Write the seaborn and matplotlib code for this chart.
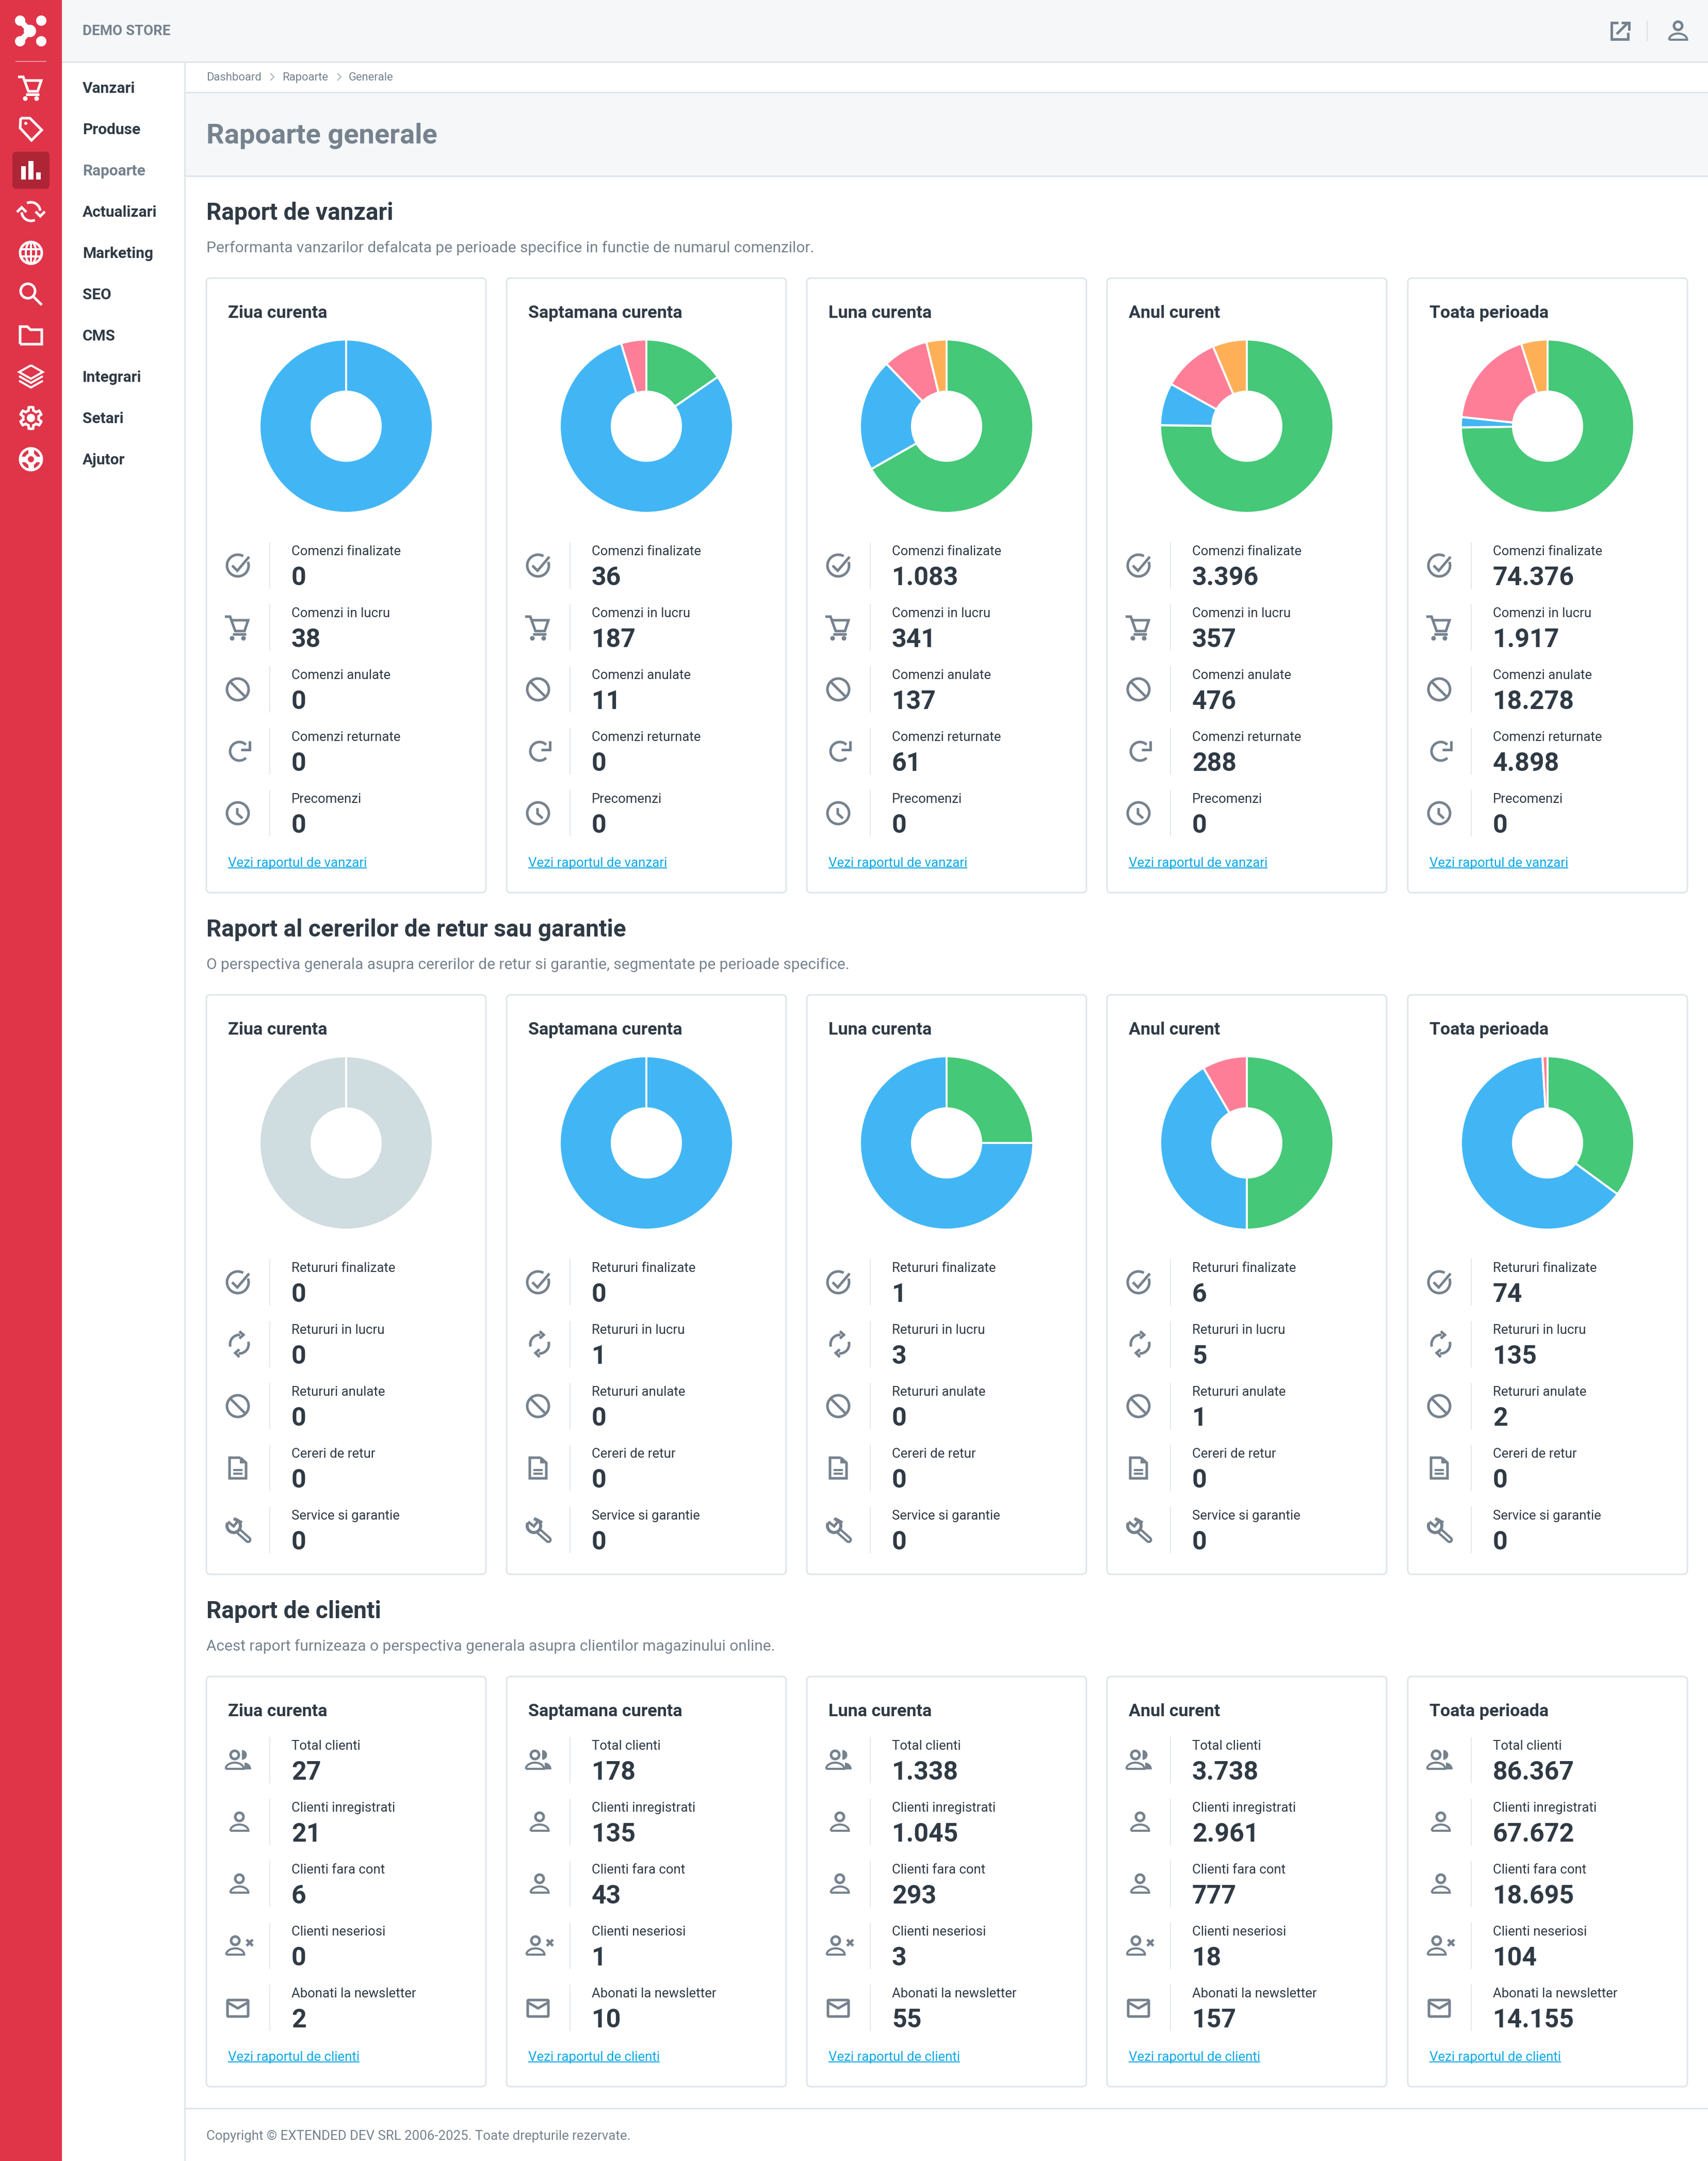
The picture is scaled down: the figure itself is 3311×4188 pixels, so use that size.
import numpy as np
import seaborn as sns
import matplotlib.pyplot as plt
from matplotlib.patches import Rectangle, Circle, Ellipse, FancyBboxPatch, Polygon

sns.set_theme(style="white")
plt.rcParams['font.family'] = ['Roboto', 'DejaVu Sans']

W, H = 3312, 4188

# data
periods = ['Ziua curenta', 'Saptamana curenta', 'Luna curenta', 'Anul curent', 'Toata perioada']

sales_labels = ['Comenzi finalizate', 'Comenzi in lucru', 'Comenzi anulate', 'Comenzi returnate', 'Precomenzi']
sales_done = [0, 36, 1083, 3396, 74376]
sales_wip = [38, 187, 341, 357, 1917]
sales_cancel = [0, 11, 137, 476, 18278]
sales_return = [0, 0, 61, 288, 4898]
sales_pre = [0, 0, 0, 0, 0]

ret_labels = ['Retururi finalizate', 'Retururi in lucru', 'Retururi anulate', 'Cereri de retur', 'Service si garantie']
ret_done = [0, 0, 1, 6, 74]
ret_wip = [0, 1, 3, 5, 135]
ret_cancel = [0, 0, 0, 1, 2]
ret_req = [0, 0, 0, 0, 0]
ret_service = [0, 0, 0, 0, 0]

cli_labels = ['Total clienti', 'Clienti inregistrati', 'Clienti fara cont', 'Clienti neseriosi', 'Abonati la newsletter']
cli_total = [27, 178, 1338, 3738, 86367]
cli_reg = [21, 135, 1045, 2961, 67672]
cli_noacc = [6, 43, 293, 777, 18695]
cli_bad = [0, 1, 3, 18, 104]
cli_news = [2, 10, 55, 157, 14155]

nav_items = ['Vanzari', 'Produse', 'Rapoarte', 'Actualizari', 'Marketing', 'SEO', 'CMS', 'Integrari', 'Setari', 'Ajutor']

pie_colors = sns.color_palette(['#45c878', '#42b6f5', '#ff7e97', '#ffb057'])
empty_color = '#cfdce0'

RED = '#e03449'
RED_DARK = '#ae2536'
PANEL = '#f5f7f9'
BORDER = '#dfe6ea'
DARK = '#2f3a45'
MUTED = '#76828e'
LINK = '#0aa9e8'

fig = plt.figure(figsize=(W / 100, H / 100), dpi=100, facecolor='white')
ax = fig.add_axes([0, 0, 1, 1])
ax.set_xlim(0, W)
ax.set_ylim(H, 0)
ax.axis('off')


def px(n):
    return n * 0.72


def txt(x, y, s, size, color=DARK, weight='normal', **kw):
    return ax.text(x, y, s, fontsize=px(size), color=color, fontweight=weight, va='baseline', **kw)


def rect(x0, y0, x1, y1, color, z=1):
    ax.add_patch(Rectangle((x0, y0), x1 - x0, y1 - y0, fc=color, ec='none', zorder=z))


def stroke(pts, col, lw=5, cap='butt', z=3):
    pts = np.asarray(pts, dtype=float)
    ax.plot(pts[:, 0], pts[:, 1], color=col, lw=px(lw), solid_capstyle=cap, solid_joinstyle='miter', zorder=z)


def arc(cx, cy, r, t0, t1, n=40, ry=None):
    t = np.radians(np.linspace(t0, t1, n))
    return np.column_stack([cx + r * np.cos(t), cy + (ry if ry else r) * np.sin(t)])


def ring(cx, cy, r, col, lw=5, z=3):
    ax.add_patch(Circle((cx, cy), r, fc='none', ec=col, lw=px(lw), zorder=z))


def dot(cx, cy, r, col, z=3):
    ax.add_patch(Circle((cx, cy), r, fc=col, ec='none', zorder=z))


def rbox(x0, y0, x1, y1, r, col, lw=5, fc='none', z=3):
    ax.add_patch(FancyBboxPatch((x0, y0), x1 - x0, y1 - y0, boxstyle=f'round,pad=0,rounding_size={r}',
                                fc=fc, ec=col, lw=px(lw), zorder=z))


def icon_check(x, y, c):
    stroke(arc(x, y, 21, -20, 300), c)
    stroke([(x - 11, y), (x - 1, y + 10), (x + 22, y - 17)], c)


def icon_cart(x, y, c):
    stroke([(x - 25, y - 21), (x - 15, y - 21), (x - 5, y + 7), (x + 13, y + 7), (x + 20, y - 14), (x - 13, y - 14)], c)
    stroke([(x - 10, y + 13), (x + 16, y + 13)], c)
    dot(x - 11, y + 21, 4.5, c)
    dot(x + 11, y + 21, 4.5, c)


def icon_ban(x, y, c):
    ring(x, y, 21, c)
    stroke([(x - 15, y - 15), (x + 15, y + 15)], c)


def icon_redo(x, y, c):
    stroke(arc(x + 3, y, 18, -45, -315), c)
    stroke([(x + 23, y - 20), (x + 23, y - 3), (x + 6, y - 3)], c)


def icon_clock(x, y, c):
    ring(x, y, 21, c)
    stroke([(x - 1, y - 10), (x - 1, y + 1), (x + 9, y + 10)], c)


def icon_sync(x, y, c):
    stroke(arc(x + 3, y, 18, -85, -195), c)
    stroke(arc(x + 3, y, 18, 95, -15), c)
    stroke([(x + 3, y - 25), (x + 11, y - 18), (x + 3, y - 11)], c)
    stroke([(x + 3, y + 10), (x - 5, y + 17), (x + 3, y + 25)], c)


def icon_doc(x, y, c):
    stroke([(x + 5, y - 20), (x - 16, y - 20), (x - 16, y + 20), (x + 16, y + 20), (x + 16, y - 10), (x + 5, y - 20)], c)
    ax.add_patch(Polygon([(x + 4, y - 21), (x + 17, y - 9), (x + 4, y - 9)], fc=c, ec='none', zorder=3))
    stroke([(x - 9, y + 4), (x + 9, y + 4)], c, 4)
    stroke([(x - 9, y + 11), (x + 9, y + 11)], c, 4)


def icon_wrench(x, y, c):
    stroke([(x + 1, y + 2), (x + 20, y + 19)], c, 13, cap='round', z=3)
    stroke([(x + 1, y + 2), (x + 20, y + 19)], 'white', 4, cap='round', z=4)
    dot(x - 8, y - 8, 16, c, z=5)
    dot(x - 8, y - 8, 10, 'white', z=5)
    ax.add_patch(Polygon([(x - 8, y - 7), (x - 26, y - 17), (x - 12, y - 32), (x - 2, y - 16)], fc='white', ec='none', zorder=6))
    stroke([(x - 19, y - 16), (x - 8, y - 7), (x - 1, y - 16)], c, 5, z=7)
    stroke([(x - 8, y - 22), (x + 8, y - 14)], c, 6, z=7)


def icon_person(x, y, c, lw=5):
    ring(x, y - 10, 8, c, lw)
    body = arc(x, y + 17, 17.5, 180, 360, ry=12)
    stroke(np.vstack([body, body[:1]]), c, lw - 1)


def icon_person_row(x, y, c):
    icon_person(x + 3, y, c)


def icon_users(x, y, c):
    icon_person(x - 6, y, c)
    ax.add_patch(Polygon(arc(x + 8, y - 10, 9.5, -90, 90), fc=c, ec='none', zorder=3))
    b = arc(x + 13, y + 18, 13, -90, 0)
    ax.add_patch(Polygon(np.vstack([b, [(x + 13, y + 18)]]), fc=c, ec='none', zorder=3))


def icon_userx(x, y, c):
    icon_person(x - 5, y, c)
    stroke([(x + 17, y - 12), (x + 29, y)], c)
    stroke([(x + 17, y), (x + 29, y - 12)], c)


def icon_mail(x, y, c):
    rbox(x - 20, y - 15, x + 20, y + 17, 2, c)
    stroke([(x - 21, y - 11), (x, y + 1), (x + 21, y - 11)], c)


def icon_tag(x, y, c):
    pts = [(x - 20, y - 21), (x - 2, y - 21), (x + 21, y + 2), (x + 1, y + 22), (x - 21, y - 2), (x - 20, y - 21)]
    stroke(pts, c)
    dot(x - 10, y - 11, 3, c)


def icon_bars(x, y, c):
    rect(x - 19, y - 8, x - 10, y + 18, c, 3)
    rect(x - 5, y - 18, x + 5, y + 18, c, 3)
    rect(x + 10, y + 4, x + 19, y + 18, c, 3)


def icon_loop(x, y, c):
    stroke(arc(x, y, 18, -115, -5), c)
    stroke(arc(x, y, 18, 65, 175), c)
    stroke([(x + 9, y), (x + 18, y + 9), (x + 27, y)], c)
    stroke([(x - 27, y + 1), (x - 18, y - 8), (x - 9, y + 1)], c)


def icon_globe(x, y, c):
    ring(x, y, 21, c)
    ax.add_patch(Ellipse((x, y), 20, 42, fc='none', ec=c, lw=px(4), zorder=3))
    stroke([(x, y - 21), (x, y + 21)], c, 4)
    stroke([(x - 20, y - 7), (x + 20, y - 7)], c, 4)
    stroke([(x - 20, y + 7), (x + 20, y + 7)], c, 4)


def icon_search(x, y, c):
    ring(x - 6, y - 6, 14, c)
    stroke([(x + 4, y + 4), (x + 21, y + 21)], c)


def icon_folder(x, y, c):
    stroke([(x - 21, y + 17), (x - 21, y - 17), (x - 7, y - 17), (x - 1, y - 11), (x + 21, y - 11), (x + 21, y + 17), (x - 21, y + 17)], c)


def icon_layers(x, y, c):
    stroke([(x, y - 22), (x + 23, y - 9), (x, y + 4), (x - 23, y - 9), (x, y - 22)], c, 4)
    stroke([(x - 23, y - 1), (x, y + 12), (x + 23, y - 1)], c, 4)
    stroke([(x - 23, y + 8), (x, y + 21), (x + 23, y + 8)], c, 4)


def icon_gear(x, y, c):
    idx = np.arange(48)
    t = np.radians(idx * 7.5 + 3.75)
    r = np.where(((idx - 10) % 8) < 4, 21, 15)
    pts = np.column_stack([x + r * np.cos(t), y + r * np.sin(t)])
    stroke(np.vstack([pts, pts[:1]]), c, 5)
    dot(x, y, 8, c)


def icon_buoy(x, y, c):
    ring(x, y, 21, c)
    ring(x, y, 9, c, 6)
    for a in (0, 90, 180, 270):
        p = arc(x, y, 9, a, a, 2)[0]
        q = arc(x, y, 22, a, a, 2)[0]
        stroke([p, q], c, 11)


def icon_link(x, y, c):
    stroke([(x - 3, y - 16), (x - 16, y - 16), (x - 16, y + 16), (x + 16, y + 16), (x + 16, y + 3)], c)
    stroke([(x - 6, y + 6), (x + 15, y - 15)], c)
    stroke([(x + 3, y - 16), (x + 18, y - 16), (x + 18, y - 1)], c)


def logo(x, y, c):
    for dx, dy in [(-21, -20), (20, -20), (-21, 20), (20, 20)]:
        dot(x + dx, y + dy, 10, c)
    stroke([(x - 21, y - 20), (x - 2, y), (x - 21, y + 20)], c, 11)
    dot(x - 2, y, 12, c)


# page frame
rect(0, 0, 120, H, RED)
rect(120, 0, W, 120, PANEL)
rect(120, 119, W, 122, BORDER, 2)
rect(357, 120, 360, H, BORDER, 2)
rect(360, 122, W, 179, 'white')
rect(360, 178, W, 181, BORDER, 2)
rect(360, 181, W, 340, PANEL)
rect(360, 340, W, 343, BORDER, 2)

logo(60, 60, 'white')
rect(30, 118, 90, 120, '#f0929d', 2)
rbox(24, 294, 96, 366, 8, RED_DARK, 0, fc=RED_DARK, z=2)

side_icons = [icon_cart, icon_tag, icon_bars, icon_loop, icon_globe, icon_search, icon_folder, icon_layers, icon_gear, icon_buoy]
for i, (name, draw) in enumerate(zip(nav_items, side_icons)):
    cy = 170 + 80 * i
    draw(60, cy, 'white')
    txt(160, cy + 10, name, 29.9, MUTED if name == 'Rapoarte' else DARK, 700)

txt(160, 68, 'DEMO STORE', 27.8, MUTED, 700)
icon_link(3140, 60, MUTED)
rect(3192, 40, 3194, 80, '#d9e0e4', 2)
icon_person(3253, 60, MUTED)

txt(400, 156, 'Dashboard', 22, MUTED)
txt(547, 156, 'Rapoarte', 22, MUTED)
txt(676, 156, 'Generale', 22, MUTED)
for cx in (527, 657):
    stroke([(cx - 3, 142), (cx + 4, 149), (cx - 3, 156)], '#a9b3bb', 2)

txt(400, 278, 'Rapoarte generale', 54.2, MUTED, 700)

card_x = [400, 982, 1564, 2146, 2729]
card_w = 542


def fmt(v):
    return f'{v:,}'.replace(',', '.')


def donut(cx, cy, values):
    r = 168
    pax = fig.add_axes([(cx - r) / W, 1 - (cy + r) / H, 2 * r / W, 2 * r / H])
    vals = [v for v in values if v > 0]
    cols = [c for v, c in zip(values, pie_colors) if v > 0]
    if not vals:
        vals, cols = [1], [empty_color]
    pax.pie(vals, colors=cols, startangle=90, counterclock=False, radius=1.0,
            wedgeprops=dict(width=101 / 168, edgecolor='white', linewidth=px(4)))
    if len(vals) == 1:
        # a full circle has no seam of its own
        pax.plot([0, 0], [67 / 168, 1], color='white', lw=px(4), solid_capstyle='butt')
    pax.set_xlim(-1, 1)
    pax.set_ylim(-1, 1)
    pax.axis('off')


def section(title, desc, top, bottom, labels, columns, icons, row_top, link=None, with_pie=False):
    txt(400, top - 113, title, 46, DARK, 700)
    txt(400, top - 50, desc, 29.85, MUTED)
    for i, cx0 in enumerate(card_x):
        rbox(cx0, top, cx0 + card_w, bottom, 8, BORDER, 3, fc='white', z=2)
        txt(cx0 + 42, top + 77, periods[i], 34.2, DARK, 700, zorder=4)
        if with_pie:
            donut(cx0 + 271, top + 287, [col[i] for col in columns[:4]])
        for j, label in enumerate(labels):
            y = row_top + 120 * j
            icons[j](cx0 + 61, y + 45, MUTED)
            rect(cx0 + 122, y, cx0 + 124, y + 90, '#e3e8ec', 4)
            txt(cx0 + 165, y + 25, label, 25.7, DARK, zorder=4)
            txt(cx0 + 165, y + 83, fmt(columns[j][i]), 50, DARK, 700, zorder=4)
        if link:
            t = txt(cx0 + 42, bottom - 50, link, 25.9, LINK, zorder=4)
            ext = t.get_window_extent(fig.canvas.get_renderer())
            rect(cx0 + 42, bottom - 49, cx0 + 42 + ext.width, bottom - 47, LINK, 4)


section('Raport de vanzari',
        'Performanta vanzarilor defalcata pe perioade specifice in functie de numarul comenzilor.',
        539, 1730, sales_labels, [sales_done, sales_wip, sales_cancel, sales_return, sales_pre],
        [icon_check, icon_cart, icon_ban, icon_redo, icon_clock], 1051,
        link='Vezi raportul de vanzari', with_pie=True)

section('Raport al cererilor de retur sau garantie',
        'O perspectiva generala asupra cererilor de retur si garantie, segmentate pe perioade specifice.',
        1928, 3051, ret_labels, [ret_done, ret_wip, ret_cancel, ret_req, ret_service],
        [icon_check, icon_sync, icon_ban, icon_doc, icon_wrench], 2440, with_pie=True)

section('Raport de clienti',
        'Acest raport furnizeaza o perspectiva generala asupra clientilor magazinului online.',
        3249, 4044, cli_labels, [cli_total, cli_reg, cli_noacc, cli_bad, cli_news],
        [icon_users, icon_person_row, icon_person_row, icon_userx, icon_mail], 3366,
        link='Vezi raportul de clienti')

rect(360, 4085, W, 4088, BORDER, 2)
txt(400, 4147, 'Copyright © EXTENDED DEV SRL 2006-2025. Toate drepturile rezervate.', 25.95, MUTED)

fig.savefig('out.png', dpi=100)
